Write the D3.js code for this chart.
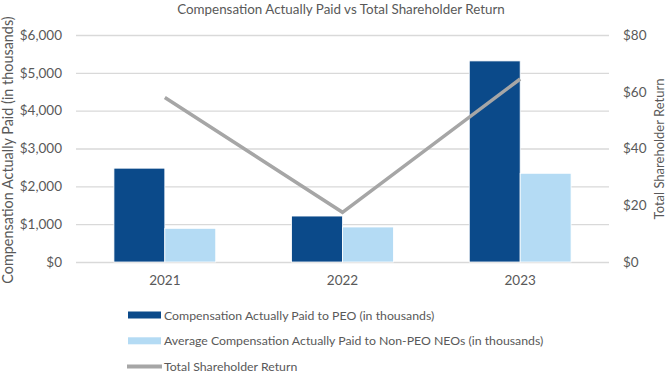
<!DOCTYPE html>
<html>
<head>
<meta charset="utf-8">
<script src="https://cdn.jsdelivr.net/npm/d3@7"></script>
<style>
  body { margin: 0; background: #fff; }
  text { font-family: Lato, "Open Sans", sans-serif; fill: #595959; }
</style>
</head>
<body>
<div id="chart"></div>
<script>
// Chart data
const years = ['2021', '2022', '2023'];
const peoPay = [2480, 1215, 5315];
const neoPay = [890, 925, 2345];
const tsr = [58, 17.5, 64.5];
const leftTicks = [0, 1000, 2000, 3000, 4000, 5000, 6000];
const rightTicks = [0, 20, 40, 60, 80];
const seriesNames = [
    'Compensation Actually Paid to PEO (in thousands)',
    'Average Compensation Actually Paid to Non-PEO NEOs (in thousands)',
    'Total Shareholder Return'
];

const W = 668, H = 375;
const plot = { left: 76, right: 609, top: 35, bottom: 262 };
const colors = { peo: '#0b4a8a', neo: '#b4dbf4', tsr: '#a6a6a6', grid: '#d9d9d9' };

const svg = d3.select('#chart')
    .append('svg')
    .attr('width', W)
    .attr('height', H);

// Scales
const x0 = d3.scaleBand()
    .domain(years)
    .range([plot.left, plot.right])
    .paddingInner(0.427)
    .paddingOuter(0.2135);

const x1 = d3.scaleBand()
    .domain(['peo', 'neo'])
    .range([0, x0.bandwidth()]);

const yLeft = d3.scaleLinear()
    .domain([0, 6000])
    .range([plot.bottom, plot.top]);

const yRight = d3.scaleLinear()
    .domain([0, 80])
    .range([plot.bottom, plot.top]);

// Title
svg.append('text')
    .attr('x', 341)
    .attr('y', 14)
    .attr('text-anchor', 'middle')
    .style('font-size', '13.4px')
    .text('Compensation Actually Paid vs Total Shareholder Return');

// Gridlines + left axis
const leftAxis = svg.append('g')
    .attr('transform', `translate(${plot.left},0)`)
    .call(d3.axisLeft(yLeft)
        .tickValues(leftTicks)
        .tickSize(-(plot.right - plot.left))
        .tickPadding(14)
        .tickFormat(d => '$' + d3.format(',')(d)));
leftAxis.select('.domain').remove();
leftAxis.selectAll('line').attr('stroke', colors.grid).attr('stroke-width', 1.3);
leftAxis.selectAll('text')
    .style('font-size', '13.5px')
    .style('font-family', 'Lato, sans-serif')
    .attr('fill', '#595959');

// Right axis
const rightAxis = svg.append('g')
    .attr('transform', `translate(${plot.right},0)`)
    .call(d3.axisRight(yRight)
        .tickValues(rightTicks)
        .tickSize(0)
        .tickPadding(14)
        .tickFormat(d => '$' + d));
rightAxis.select('.domain').remove();
rightAxis.selectAll('text')
    .style('font-size', '13.5px')
    .style('font-family', 'Lato, sans-serif')
    .attr('fill', '#595959');

// Bars
const groups = svg.append('g')
    .selectAll('g')
    .data(years)
    .join('g')
    .attr('transform', d => `translate(${x0(d)},0)`);

groups.append('rect')
    .attr('x', x1('peo'))
    .attr('y', (d, i) => yLeft(peoPay[i]))
    .attr('width', x1.bandwidth())
    .attr('height', (d, i) => plot.bottom - yLeft(peoPay[i]))
    .attr('fill', colors.peo)
    .attr('stroke', '#fff')
    .attr('stroke-width', 0.8);

groups.append('rect')
    .attr('x', x1('neo'))
    .attr('y', (d, i) => yLeft(neoPay[i]))
    .attr('width', x1.bandwidth())
    .attr('height', (d, i) => plot.bottom - yLeft(neoPay[i]))
    .attr('fill', colors.neo)
    .attr('stroke', '#fff')
    .attr('stroke-width', 0.8);

// X labels
const xAxis = svg.append('g')
    .attr('transform', `translate(0,${plot.bottom})`)
    .call(d3.axisBottom(x0).tickSize(0).tickPadding(13));
xAxis.select('.domain').remove();
xAxis.selectAll('text')
    .style('font-size', '13.5px')
    .style('font-family', 'Lato, sans-serif')
    .attr('fill', '#595959');

// TSR line
const line = d3.line()
    .x((d, i) => x0(years[i]) + x0.bandwidth() / 2)
    .y(d => yRight(d));

svg.append('path')
    .datum(tsr)
    .attr('d', line)
    .attr('fill', 'none')
    .attr('stroke', colors.tsr)
    .attr('stroke-width', 3.5);

// Axis titles
svg.append('text')
    .attr('transform', 'translate(13,150) rotate(-90)')
    .attr('text-anchor', 'middle')
    .style('font-size', '14.4px')
    .text('Compensation Actually Paid (in thousands)');

svg.append('text')
    .attr('transform', 'translate(664,149) rotate(-90)')
    .attr('text-anchor', 'middle')
    .style('font-size', '13px')
    .text('Total Shareholder Return');

// Legend
const legend = svg.append('g')
    .attr('transform', 'translate(128,315)');

const legendRows = legend.selectAll('g')
    .data(seriesNames)
    .join('g')
    .attr('transform', (d, i) => `translate(0,${i * 25.8})`);

legendRows.each(function(d, i) {
    const row = d3.select(this);
    if (i < 2) {
        row.append('rect')
            .attr('x', 0)
            .attr('y', -3.5)
            .attr('width', 33)
            .attr('height', 7)
            .attr('fill', i === 0 ? colors.peo : colors.neo);
    } else {
        row.append('line')
            .attr('x1', -1)
            .attr('x2', 34)
            .attr('stroke', colors.tsr)
            .attr('stroke-width', 4);
    }
});

legendRows.append('text')
    .attr('x', 36)
    .attr('y', 4.5)
    .style('font-size', '12.3px')
    .text(d => d);
</script>
</body>
</html>
